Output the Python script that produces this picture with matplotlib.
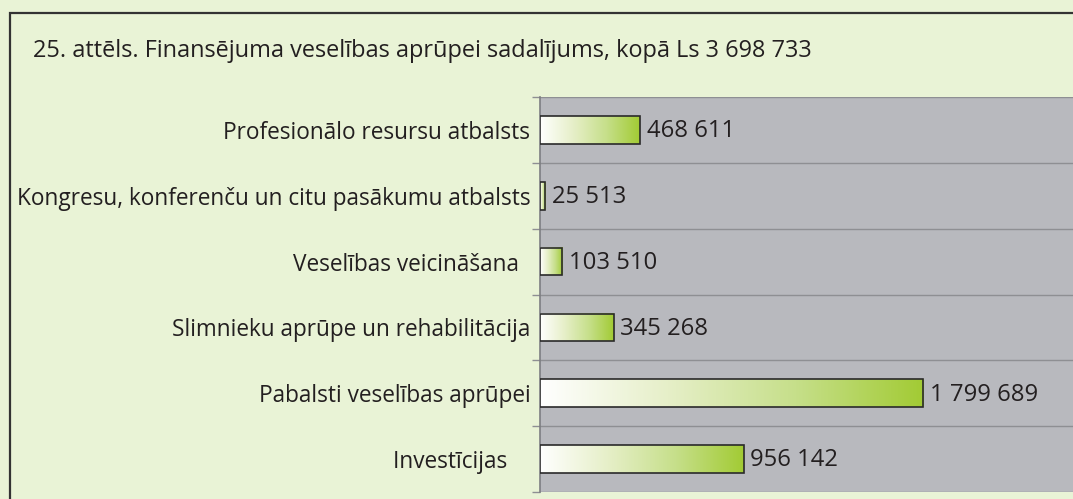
import matplotlib
matplotlib.use("Agg")
import matplotlib.pyplot as plt
import numpy as np
from matplotlib.patches import Rectangle
from matplotlib.colors import LinearSegmentedColormap

title = "25. attēls. Finansējuma veselības aprūpei sadalījums, kopā Ls 3 698 733"
categories = [
    "Profesionālo resursu atbalsts",
    "Kongresu, konferenču un citu pasākumu atbalsts",
    "Veselības veicināšana  ",
    "Slimnieku aprūpe un rehabilitācija",
    "Pabalsti veselības aprūpei",
    "Investīcijas    ",
]
values = [468611, 25513, 103510, 345268, 1799689, 956142]
value_labels = ["468 611", "25 513", "103 510", "345 268", "1 799 689", "956 142"]

BG = "#e9f3d6"
PLOT_BG = "#b8b9be"
GRID = "#8e8f93"
TEXT = "#231f20"

W, H = 1073, 499
fig = plt.figure(figsize=(W / 100, H / 100), dpi=100)
fig.patch.set_facecolor(BG)
plt.rcParams['font.family'] = ['Open Sans', 'DejaVu Sans']

# outer frame
fig.add_artist(Rectangle((10 / W, 0 - 20 / H), (W + 20) / W, (H - 13 + 20) / H,
                         transform=fig.transFigure, fill=False,
                         edgecolor="#333333", linewidth=1.6))
fig.text(33 / W, 1 - 51 / H, title, ha="left", va="center", fontsize=16.9, color=TEXT)

left, right = 540, 1085
top, bottom = 97, 492
ax = fig.add_axes([left / W, 1 - bottom / H, (right - left) / W, (bottom - top) / H])
ax.set_facecolor(PLOT_BG)

n = len(categories)
y = np.arange(n)
XMAX = 2.56e6
bars = ax.barh(y, values, height=0.42, facecolor="none", edgecolor="#2a2a2a",
               linewidth=1.2, zorder=4)

cmap = LinearSegmentedColormap.from_list("g", ["#ffffff", "#e6efc8", "#c6df8a", "#a2cb34"])
grad = np.linspace(0, 1, 256).reshape(1, -1)
for b in bars:
    x0, y0 = b.get_x(), b.get_y()
    w, h = b.get_width(), b.get_height()
    ax.imshow(grad, cmap=cmap, aspect="auto", extent=[x0, x0 + w, y0 + h, y0],
              zorder=3, interpolation="bilinear")
ax.set_xlim(0, XMAX)
ax.set_ylim(n - 0.5, -0.5)

for b, lab in zip(bars, value_labels):
    ax.annotate(lab, (b.get_width(), b.get_y() + b.get_height() / 2),
                xytext=(5, -1), textcoords="offset points", va="center", ha="left",
                fontsize=17.2, color=TEXT, zorder=5)

ax.set_yticks(y)
ax.set_yticklabels(categories, fontsize=16.3, color=TEXT)
ax.tick_params(axis="y", which="major", length=0, pad=7)
ax.set_yticks(np.arange(n + 1) - 0.5, minor=True)
ax.tick_params(axis="y", which="minor", length=6, color=GRID, width=1)
ax.grid(axis="y", which="minor", color=GRID, linewidth=1, zorder=1)
ax.set_axisbelow(True)
ax.set_xticks([])
for s in ["top", "right", "bottom"]:
    ax.spines[s].set_visible(False)
ax.spines["left"].set_color("#7d7e82")
ax.spines["left"].set_linewidth(1.2)

fig.savefig("out.png", dpi=100, facecolor=BG)
